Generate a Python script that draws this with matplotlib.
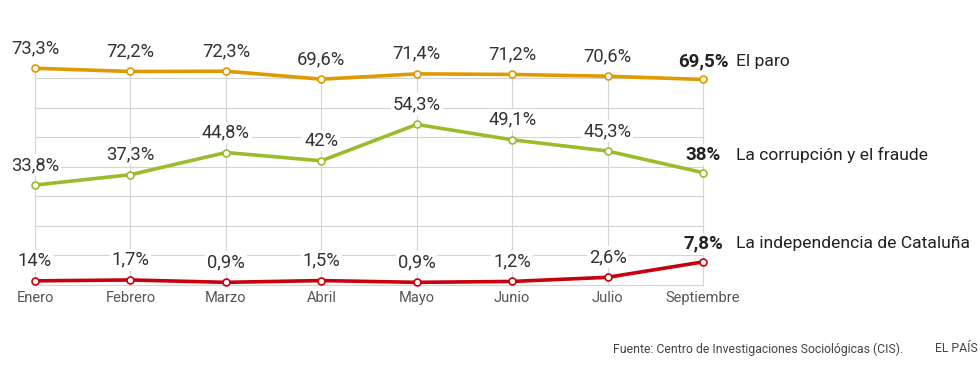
import matplotlib.pyplot as plt

plt.rcParams['font.family'] = ['Roboto', 'DejaVu Sans']

meses = ['Enero', 'Febrero', 'Marzo', 'Abril', 'Mayo', 'Junio', 'Julio', 'Septiembre']
paro = [73.3, 72.2, 72.3, 69.6, 71.4, 71.2, 70.6, 69.5]
corrupcion = [33.8, 37.3, 44.8, 42.0, 54.3, 49.1, 45.3, 38.0]
independencia = [1.4, 1.7, 0.9, 1.5, 0.9, 1.2, 2.6, 7.8]
# etiquetas tal y como aparecen en el original (Enero sale como "14%")
etq_paro = ['73,3%', '72,2%', '72,3%', '69,6%', '71,4%', '71,2%', '70,6%', '69,5%']
etq_corr = ['33,8%', '37,3%', '44,8%', '42%', '54,3%', '49,1%', '45,3%', '38%']
etq_ind = ['14%', '1,7%', '0,9%', '1,5%', '0,9%', '1,2%', '2,6%', '7,8%']
nombres = ['El paro', 'La corrupción y el fraude', 'La independencia de Cataluña']
colores = ['#e09a00', '#9cbb2c', '#c8000e']
grid_y = [0, 10, 20, 30, 40, 50, 60, 70]

W, H = 980, 383
fig = plt.figure(figsize=(W / 100, H / 100), dpi=100)
x0, x1 = 35, 703
y0, y1 = 285, 78
ax = fig.add_axes([x0 / W, 1 - y0 / H, (x1 - x0) / W, (y0 - y1) / H])
ax.set_xlim(0, len(meses) - 1)
ax.set_ylim(0, 70)
ax.axis('off')

xs = list(range(len(meses)))
for g in grid_y:
    ax.plot([0, len(meses) - 1], [g, g], color='#d4d4d4', lw=0.8, zorder=1, clip_on=False)
for i in xs:
    top = max(paro[i], corrupcion[i], independencia[i])
    ax.plot([i, i], [0, top], color='#d4d4d4', lw=0.8, zorder=1, clip_on=False)

series = [paro, corrupcion, independencia]
etiquetas = [etq_paro, etq_corr, etq_ind]
for s, etq, c, nom in zip(series, etiquetas, colores, nombres):
    ax.plot(xs, s, color=c, lw=2.6, zorder=3, clip_on=False,
            marker='o', markersize=5, markerfacecolor='white',
            markeredgecolor=c, markeredgewidth=1.2)
    for i, (v, t) in enumerate(zip(s, etq)):
        last = i == len(s) - 1
        ax.annotate(t, (i, v), xytext=(0, 13 if last else 14.5),
                    textcoords='offset points', ha='center', va='center',
                    fontsize=13.5 if last else 13.2,
                    color='#222222' if last else '#333333',
                    fontweight='bold' if last else 'normal', zorder=4,
                    annotation_clip=False,
                    bbox=dict(boxstyle='square,pad=0.1', fc='white', ec='none'))
    ax.annotate(nom, (len(s) - 1, s[-1]), xytext=(24, 13),
                textcoords='offset points', ha='left', va='center',
                fontsize=12.6, color='#222222', annotation_clip=False)

for i, m in enumerate(meses):
    ax.annotate(m, (i, 0), xytext=(0, -9.5), textcoords='offset points',
                ha='center', va='center', fontsize=10.5, color='#555555',
                annotation_clip=False)

fig.text(613 / W, 1 - 349 / H, 'Fuente: Centro de Investigaciones Sociológicas (CIS).',
         fontsize=8.8, color='#444444', va='center', ha='left')
fig.text(978 / W, 1 - 349 / H, 'EL PAÍS', fontsize=8.8, color='#444444',
         va='center', ha='right')

fig.savefig('out.png', dpi=100, facecolor='white')
